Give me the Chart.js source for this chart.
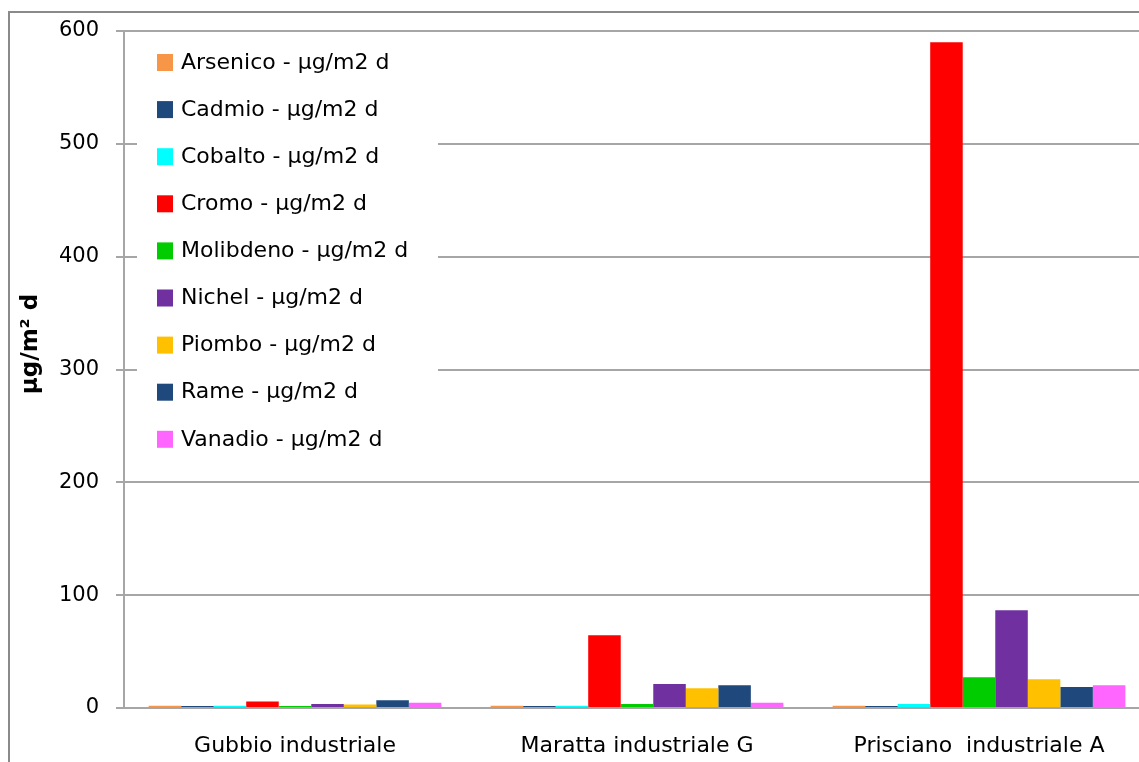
<!DOCTYPE html>
<html>
<head>
<meta charset="utf-8">
<script src="https://cdn.jsdelivr.net/npm/chart.js@4/dist/chart.umd.min.js"></script>
<style>
html,body{margin:0;padding:0;overflow:hidden;background:#fff;width:1139px;height:762px;}
canvas{display:block;}
</style>
</head>
<body>
<canvas id="c" width="1160" height="762"></canvas>
<script>
const categories = ["Gubbio industriale", "Maratta industriale G", "Prisciano  industriale A"];
const seriesNames = ["Arsenico - µg/m2 d", "Cadmio - µg/m2 d", "Cobalto - µg/m2 d", "Cromo - µg/m2 d", "Molibdeno - µg/m2 d", "Nichel - µg/m2 d", "Piombo - µg/m2 d", "Rame - µg/m2 d", "Vanadio - µg/m2 d"];
const arsenico  = [2, 2, 2];
const cadmio    = [1.8, 1.8, 1.8];
const cobalto   = [2, 2, 3.6];
const cromo     = [5.8, 64.4, 590];
const molibdeno = [1.8, 3.5, 27.2];
const nichel    = [3.5, 21.3, 86.6];
const piombo    = [3.2, 17.5, 25.4];
const rame      = [6.8, 20.1, 18.6];
const vanadio   = [4.6, 4.6, 20.1];
const yTicks = [0, 100, 200, 300, 400, 500, 600];
const yTitle = "µg/m² d";

const colors = ["#F79646", "#1F497D", "#00FFFF", "#FF0000", "#00CC00", "#7030A0", "#FFC000", "#1F497D", "#FF66FF"];
const values = [arsenico, cadmio, cobalto, cromo, molibdeno, nichel, piombo, rame, vanadio];

const FONT = "'DejaVu Sans', sans-serif";

const decor = {
  id: 'decor',
  beforeDraw(chart) {
    const ctx = chart.ctx;
    ctx.save();
    ctx.fillStyle = '#fff';
    ctx.fillRect(0, 0, chart.width, chart.height);
    ctx.strokeStyle = '#8a8a8a';
    ctx.lineWidth = 2;
    ctx.beginPath();
    ctx.moveTo(9, 800);
    ctx.lineTo(9, 12);
    ctx.lineTo(1200, 12);
    ctx.stroke();
    ctx.restore();
  },
  afterDraw(chart) {
    const ctx = chart.ctx;
    ctx.save();
    ctx.translate(31, 344);
    ctx.rotate(-Math.PI / 2);
    ctx.font = "bold 23px " + FONT;
    ctx.fillStyle = '#000';
    ctx.textAlign = 'center';
    ctx.textBaseline = 'middle';
    ctx.fillText(yTitle, 0, 0);
    ctx.restore();
    ctx.save();
    ctx.fillStyle = '#fff';
    ctx.fillRect(137, 38, 301, 427);
    ctx.font = "22px " + FONT;
    ctx.textBaseline = 'middle';
    ctx.textAlign = 'left';
    chart.data.datasets.forEach((ds, i) => {
      const cy = 63 + i * 47.1;
      ctx.fillStyle = ds.backgroundColor;
      ctx.fillRect(157, cy - 9, 16, 17);
      ctx.fillStyle = '#000';
      ctx.fillText(ds.label, 181, cy);
    });
    ctx.restore();
  }
};

new Chart(document.getElementById('c'), {
  type: 'bar',
  data: {
    labels: categories,
    datasets: seriesNames.map((n, i) => ({
      label: n,
      data: values[i],
      backgroundColor: colors[i],
      borderWidth: 0,
      categoryPercentage: 0.856,
      barPercentage: 1.0
    }))
  },
  options: {
    responsive: false,
    animation: false,
    layout: { padding: { left: 0, right: 10, top: 31, bottom: 0 } },
    plugins: { legend: { display: false }, tooltip: { enabled: false } },
    scales: {
      x: {
        grid: { display: false, drawTicks: false },
        border: { display: true, color: '#a6a6a6', width: 2 },
        ticks: { color: '#000', font: { family: FONT, size: 22 }, padding: 25, maxRotation: 0, autoSkip: false },
        afterFit(s) { s.height = 54; }
      },
      y: {
        min: 0, max: 600,
        afterBuildTicks(s) { s.ticks = yTicks.map(v => ({ value: v })); },
        grid: { color: '#a6a6a6', lineWidth: 2, tickLength: 8, drawTicks: true },
        border: { display: true, color: '#a6a6a6', width: 2 },
        ticks: { color: '#000', font: { family: FONT, size: 21 }, padding: 17 },
        afterFit(s) { s.width = 124; }
      }
    }
  },
  plugins: [decor]
});
</script>
</body>
</html>
